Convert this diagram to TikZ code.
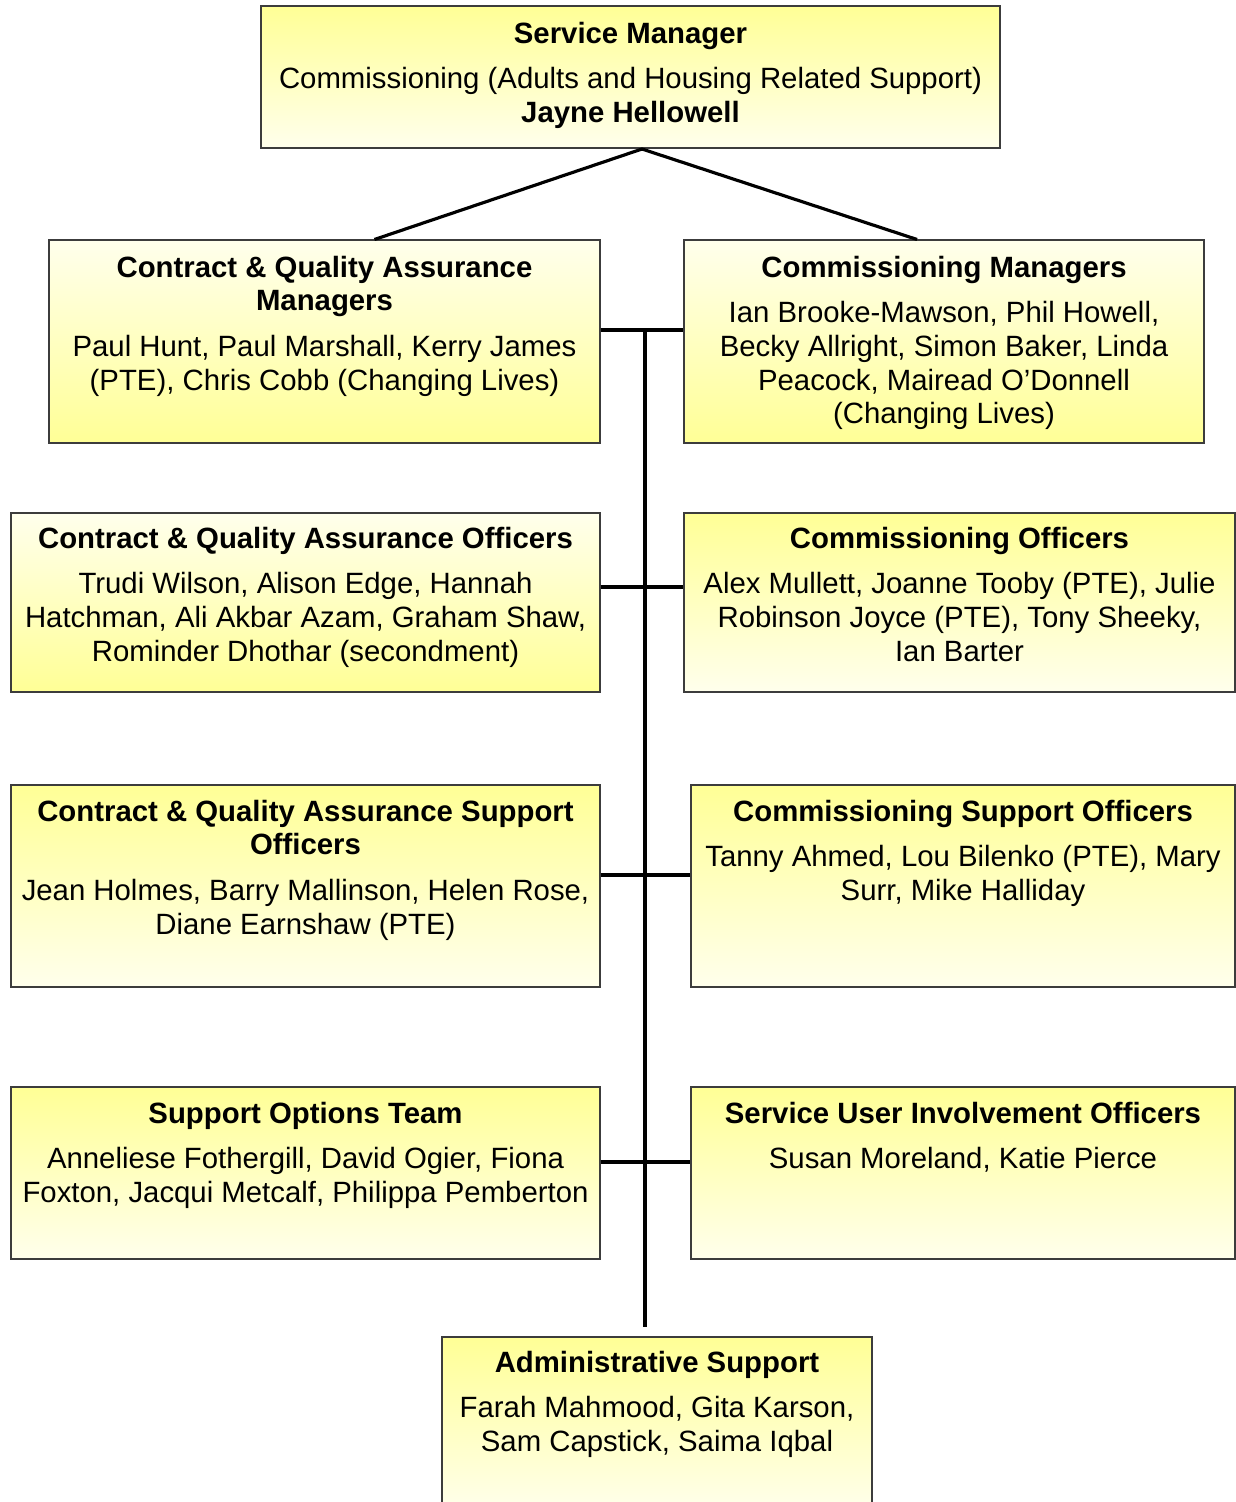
\documentclass[tikz,border=0pt]{standalone}
\usepackage{fontspec}
\setmainfont{Liberation Sans}
\usepackage{tikz}
\usetikzlibrary{fit,positioning}
\definecolor{orgyel}{RGB}{255,255,150}
\definecolor{orgpale}{RGB}{255,255,236}
\definecolor{orgedge}{RGB}{60,60,60}
\def\orgfont{\fontsize{16.7}{19.1}\selectfont}
\def\gap{\\[7pt]}
\tikzset{
	orgbox/.style={draw=orgedge, line width=0.6pt, inner sep=0pt, rectangle},
	upyel/.style={orgbox, top color=orgyel, bottom color=orgpale},
	downyel/.style={orgbox, top color=orgpale, bottom color=orgyel},
	orgtext/.style={align=center, inner sep=0pt, font=\orgfont},
	link/.style={line width=1.8pt, black}
}

\begin{document}
\begin{tikzpicture}[x=0.02cm, y=-0.02cm]
			%%%%% START %%%%%
			\useasboundingbox (0, 0) rectangle (1236, 1502);
			
			\node[upyel, fit={(261, 6) (1000, 148)}] (sm) {};
			\node[orgtext, below=0.32cm of sm.north] (smtxt) {\textbf{Service Manager}\gap Commissioning (Adults and Housing Related Support)\\ \textbf{Jayne Hellowell}};
			
			\node[downyel, fit={(49, 240) (600, 443)}] (cqam) {};
			\node[orgtext, below=0.32cm of cqam.north] (cqamtxt) {\textbf{Contract \& Quality Assurance}\\ \textbf{Managers}\gap Paul Hunt, Paul Marshall, Kerry James\\ (PTE), Chris Cobb (Changing Lives)};
			
			\node[downyel, fit={(684, 240) (1204, 443)}] (cm) {};
			\node[orgtext, below=0.32cm of cm.north] (cmtxt) {\textbf{Commissioning Managers}\gap Ian Brooke-Mawson, Phil Howell,\\ Becky Allright, Simon Baker, Linda\\ Peacock, Mairead O’Donnell\\ (Changing Lives)};
			
			\node[downyel, fit={(11, 513) (600, 692)}] (cqao) {};
			\node[orgtext, below=0.28cm of cqao.north] (cqaotxt) {\textbf{Contract \& Quality Assurance Officers}\gap Trudi Wilson, Alison Edge, Hannah\\ Hatchman, Ali Akbar Azam, Graham Shaw,\\ Rominder Dhothar (secondment)};
			
			\node[upyel, fit={(684, 513) (1235, 692)}] (co) {};
			\node[orgtext, below=0.28cm of co.north] (cotxt) {\textbf{Commissioning Officers}\gap Alex Mullett, Joanne Tooby (PTE), Julie\\ Robinson Joyce (PTE), Tony Sheeky,\\ Ian Barter};
			
			\node[upyel, fit={(11, 785) (600, 987)}] (cqaso) {};
			\node[orgtext, below=0.3cm of cqaso.north] (cqasotxt) {\textbf{Contract \& Quality Assurance Support}\\ \textbf{Officers}\gap Jean Holmes, Barry Mallinson, Helen Rose,\\ Diane Earnshaw (PTE)};
			
			\node[upyel, fit={(691, 785) (1235, 987)}] (cso) {};
			\node[orgtext, below=0.3cm of cso.north] (csotxt) {\textbf{Commissioning Support Officers}\gap Tanny Ahmed, Lou Bilenko (PTE), Mary\\ Surr, Mike Halliday};
			
			\node[upyel, fit={(11, 1087) (600, 1259)}] (sot) {};
			\node[orgtext, below=0.3cm of sot.north] (sottxt) {\textbf{Support Options Team}\gap Anneliese Fothergill, David Ogier, Fiona\\ Foxton, Jacqui Metcalf, Philippa Pemberton};
			
			\node[upyel, fit={(691, 1087) (1235, 1259)}] (suio) {};
			\node[orgtext, below=0.3cm of suio.north] (suiotxt) {\textbf{Service User Involvement Officers}\gap Susan Moreland, Katie Pierce};
			
			\node[upyel, fit={(442, 1337) (872, 1512)}] (admin) {};
			\node[orgtext, below=0.28cm of admin.north] (admintxt) {\textbf{Administrative Support}\gap Farah Mahmood, Gita Karson,\\ Sam Capstick, Saima Iqbal};
			
			% links
			\coordinate (apex) at (642, 149);
			\coordinate (trunktop) at (645, 330);
			\coordinate (trunkend) at (645, 1327);
			
			\draw[link] ([xshift=1cm]cqam.north) -- (apex) -- ([xshift=-0.54cm]cm.north);
			\draw[link] (trunktop) -- (trunkend);
			\draw[link] (cqam.east |- trunktop) -- (cm.west |- trunktop);
			\draw[link] ([yshift=0.31cm]cqao.east) -- ([yshift=0.31cm]co.west);
			\draw[link] ([yshift=0.22cm]cqaso.east) -- ([yshift=0.22cm]cso.west);
			\draw[link] ([yshift=0.22cm]sot.east) -- ([yshift=0.22cm]suio.west);
			
			%%%%% END %%%%%
		\end{tikzpicture}
\end{document}
